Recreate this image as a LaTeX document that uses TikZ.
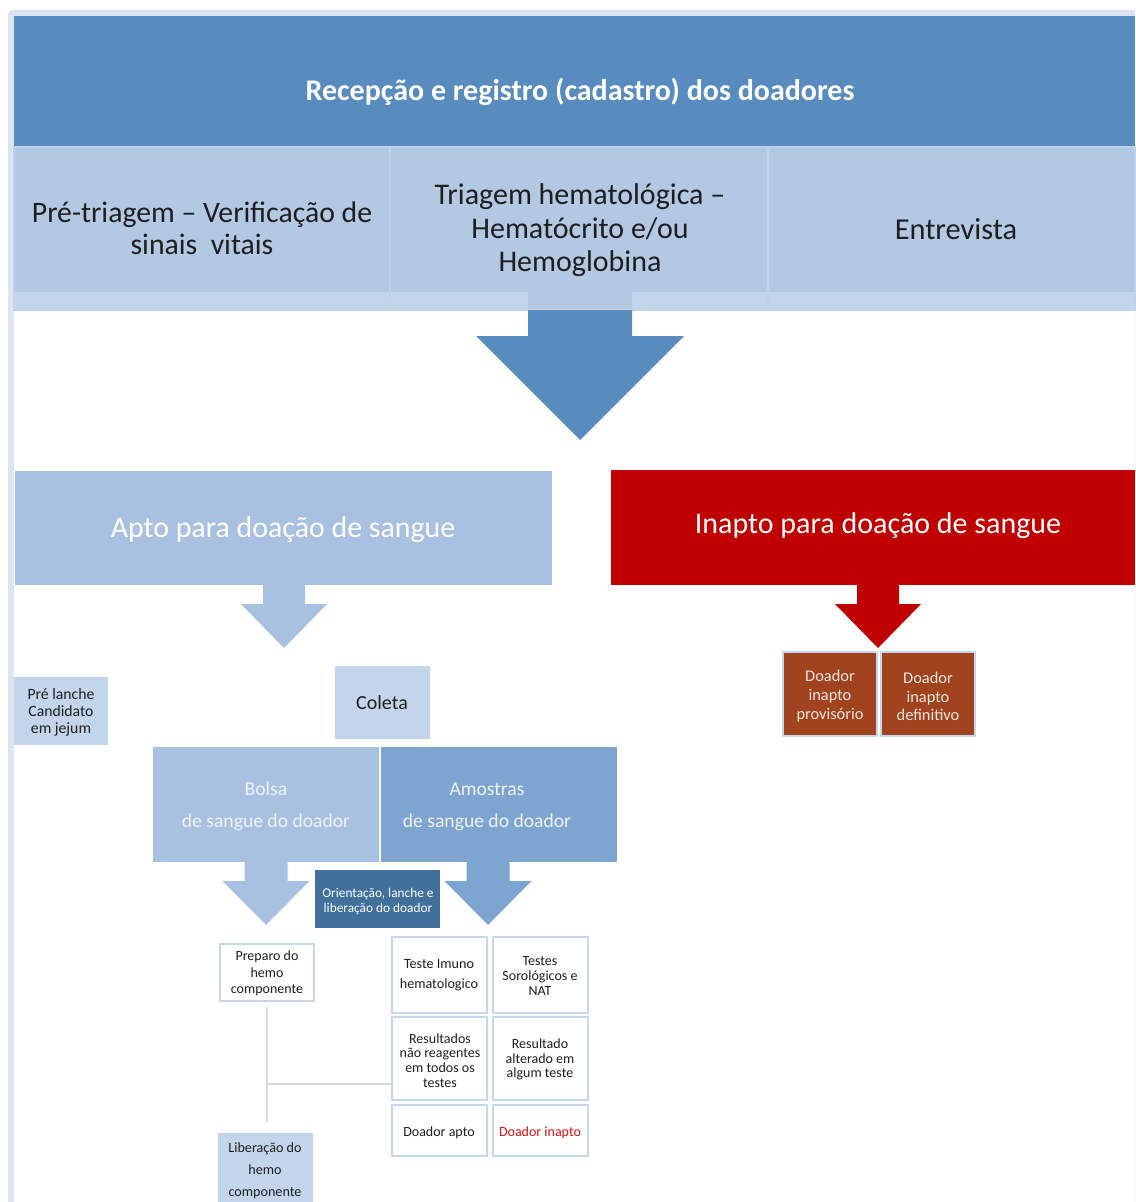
\documentclass[tikz,border=0pt]{standalone}
\usepackage{fontspec}
\setmainfont{Carlito}
\usetikzlibrary{fit,calc}

\definecolor{frameband}{HTML}{DCE3F3}
\definecolor{hdrblue}{HTML}{588BBE}
\definecolor{rowblue}{HTML}{B3C9E3}
\definecolor{rowsep}{HTML}{BFD2E9}
\definecolor{striplight}{HTML}{C3D5EA}
\definecolor{aptoblue}{HTML}{A9C1E1}
\definecolor{amostrablue}{HTML}{7EA5D0}
\definecolor{orientblue}{HTML}{41709D}
\definecolor{inaptored}{HTML}{C00000}
\definecolor{brownbox}{HTML}{A1431F}
\definecolor{cellborder}{HTML}{C6D6EB}
\definecolor{linegray}{HTML}{D9D9D9}
\definecolor{darktext}{HTML}{1E1E1E}
\definecolor{softwhite}{HTML}{EEF2F8}
\definecolor{pinkwhite}{HTML}{F6E6E0}
\definecolor{alertred}{HTML}{E01010}

% down-pointing block arrow: colour, centre x, top y, neck y, tip y, shaft half width, head half width
\newcommand{\blockdown}[7]{%
  \fill[#1] (#2-#6,#3) -- (#2+#6,#3) -- (#2+#6,#4) -- (#2+#7,#4) -- (#2,#5)
    -- (#2-#7,#4) -- (#2-#6,#4) -- cycle;}

\begin{document}
\begin{tikzpicture}[x=0.75pt,y=-0.75pt,
  box/.style={inner sep=0pt},
  txt/.style={inner sep=0pt, align=center, anchor=center, yshift=-1.8pt},
  fs/.style 2 args={font=\fontsize{#1}{#2}\selectfont},
  gridcell/.style={box, fill=white, draw=cellborder, line width=1pt},
  gridtxt/.style={txt, text=darktext, fs={10.5}{11}},
  conn/.style={draw=linegray, line width=1.1pt}]
\useasboundingbox (0,0) rectangle (1135,1202);

% page frame band (top and left edges only)
\begin{scope}
\clip (0,0) rectangle (1135,1202);
\fill[frameband] (8,1215) {[rounded corners=3pt] -- (8,10) -- (1150,10)} -- (1150,1215) -- cycle;
\fill[white] (14,16) rectangle (1150,1215);
\end{scope}

% header
\node[box, fit={(14,16)(1135,147)}, fill=hdrblue] (hdr) {};
\draw[hdrblue!85!black, line width=0.6pt] (14,147) -- (1135,147);
\node[txt, text=white, font=\bfseries\fontsize{22.5}{26}\selectfont] (hdr-t) at (580,90)
  {Recepção e registro (cadastro) dos doadores};

% screening steps
\node[box, fit={(14,147)(390,310)}, fill=rowblue, draw=rowsep, line width=0.8pt] (pre) {};
\node[box, fit={(390,147)(768,310)}, fill=rowblue, draw=rowsep, line width=0.8pt] (tri) {};
\node[box, fit={(768,147)(1135,310)}, fill=rowblue, draw=rowsep, line width=0.8pt] (ent) {};
\fill[striplight] (14,292) rectangle (528,310);
\fill[striplight] (632,292) rectangle (1135,310);
\draw[rowsep, line width=0.8pt] (390,292) -- (390,310) (768,292) -- (768,310);
\node[txt, text=darktext, fs={22.3}{24}] (pre-t) at (202,226) {Pré-triagem – Verificação de\\sinais\ \ vitais};
\node[txt, text=darktext, fs={22.5}{25}] (tri-t) at (580,228) {Triagem hematológica –\\Hematócrito e/ou\\Hemoglobina};
\node[txt, text=darktext, fs={22.8}{25}] (ent-t) at (956,227) {Entrevista};

% main arrow
\blockdown{hdrblue}{580}{310}{336}{440}{52}{104}

% outcome boxes
\node[box, fit={(15,471)(552,585)}, fill=aptoblue] (apto) {};
\node[txt, text=white, fs={22.4}{26}] (apto-t) at (283,527) {Apto para doação de sangue};
\node[box, fit={(611,470)(1135,585)}, fill=inaptored] (inapto) {};
\node[txt, text=white, fs={22.5}{26}] (inapto-t) at (878,523) {Inapto para doação de sangue};

\blockdown{aptoblue}{284}{585}{604}{648}{21}{43}
\blockdown{inaptored}{878}{585}{604}{648}{21}{43}

% deferral types
\node[box, fit={(783,652)(877,736)}, fill=brownbox, draw=cellborder, line width=0.8pt] (prov) {};
\node[box, fit={(881,652)(975,736)}, fill=brownbox, draw=cellborder, line width=0.8pt] (defi) {};
\node[txt, text=pinkwhite, fs={12.3}{14.2}] (prov-t) at (830,694) {Doador\\inapto\\provisório};
\node[txt, text=pinkwhite, fs={12.3}{14.2}] (defi-t) at (928,694) {Doador\\inapto\\definitivo};

% collection
\node[box, fit={(14,677)(108,745)}, fill=striplight] (lanche) {};
\node[txt, text=darktext, fs={11.8}{12.4}] (lanche-t) at (61,710) {Pré lanche\\Candidato\\em jejum};
\node[box, fit={(335,666)(430,739)}, fill=striplight] (coleta) {};
\node[txt, text=darktext, fs={15}{18}] (coleta-t) at (382,700) {Coleta};
\node[box, fit={(153,747)(379,862)}, fill=aptoblue] (bolsa) {};
\node[txt, text=softwhite, fs={14.7}{24}] (bolsa-t) at (266,804) {Bolsa\\de sangue do doador};
\node[box, fit={(381,747)(617,862)}, fill=amostrablue] (amostras) {};
\node[txt, text=softwhite, fs={14.7}{24}] (amostras-t) at (487,804) {Amostras\\de sangue do doador};

\blockdown{aptoblue}{266}{862}{881}{925}{21.5}{43.5}
\blockdown{amostrablue}{488}{862}{881}{925}{21.5}{43.5}

\node[box, fit={(315,870)(440,928)}, fill=orientblue] (orient) {};
\node[txt, text=white, fs={10}{11.2}] (orient-t) at (378,899) {Orientação, lanche e\\liberação do doador};

% blood bag processing
\node[gridcell, fit={(220,944)(314,1001)}] (prep) {};
\node[txt, text=darktext, fs={10.5}{12.5}] (prep-t) at (267,971) {Preparo do\\hemo\\componente};
\node[box, fit={(218,1133)(313,1202)}, fill=striplight] (lib) {};
\node[txt, text=darktext, fs={10.6}{16.5}] (lib-t) at (265,1168) {Liberação do\\hemo\\componente};

% laboratory tests
\node[gridcell, fit={(392,937)(487,1013)}] (imuno) {};
\node[gridcell, fit={(493,937)(588,1013)}] (soro) {};
\node[gridcell, fit={(392,1017)(487,1100)}] (res) {};
\node[gridcell, fit={(493,1017)(588,1100)}] (alt) {};
\node[gridcell, fit={(392,1105)(487,1156)}] (dapto) {};
\node[gridcell, fit={(493,1105)(588,1156)}] (dinapto) {};
\node[gridtxt, fs={10.6}{15}] (imuno-t) at (439,973) {Teste Imuno\\hematologico};
\node[gridtxt] (soro-t) at (540,973.5) {Testes\\Sorológicos e\\NAT};
\node[gridtxt] (res-t) at (440,1058) {Resultados\\não reagentes\\em todos os\\testes};
\node[gridtxt] (alt-t) at (540,1057) {Resultado\\alterado em\\algum teste};
\node[gridtxt] (dapto-t) at (439,1130) {Doador apto};
\node[gridtxt, text=alertred] (dinapto-t) at (540,1130) {Doador inapto};

% release connector
\coordinate (jn) at (prep.south |- 0,1084);
\draw[conn] ([yshift=-3.75pt]prep.south) -- ([yshift=8pt]prep.south |- lib.north);
\draw[conn] (jn) -- (jn -| res.west);
\end{tikzpicture}
\end{document}
